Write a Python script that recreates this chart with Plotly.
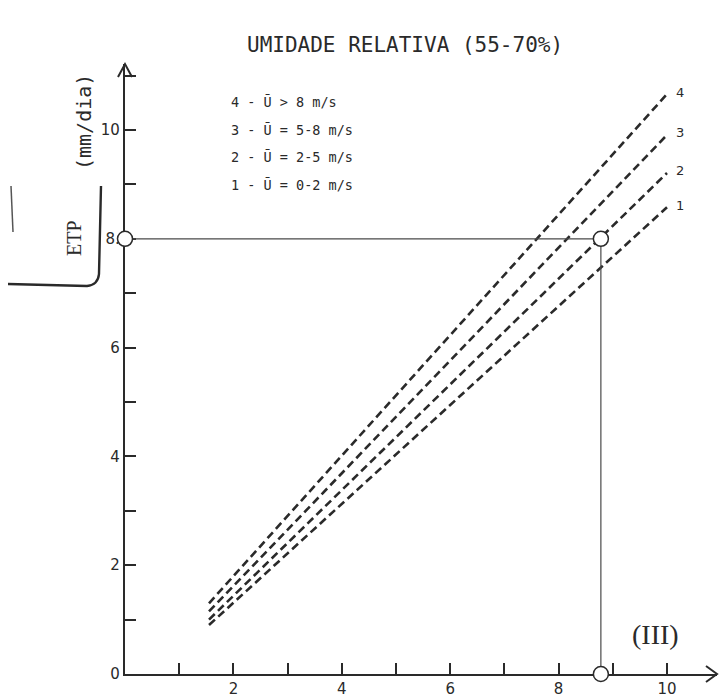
import plotly.graph_objects as go

# ---------------- data ----------------
curve_ids = ['1', '2', '3', '4']
x_ends = [1.55, 10.0]                 # x at both ends of each line
etp_curve1 = [0.90, 8.58]             # 1 - U = 0-2 m/s
etp_curve2 = [1.00, 9.21]             # 2 - U = 2-5 m/s
etp_curve3 = [1.15, 9.91]             # 3 - U = 5-8 m/s
etp_curve4 = [1.30, 10.66]            # 4 - U > 8 m/s
legend_lines = ['4 - Ū > 8 m/s', '3 - Ū = 5-8 m/s', '2 - Ū = 2-5 m/s', '1 - Ū = 0-2 m/s']
x_tickvals = [1, 2, 3, 4, 5, 6, 7, 8, 9, 10]
x_ticktext = ['', '2', '', '4', '', '6', '', '8', '', '10']
y_tickvals = [0, 1, 2, 3, 4, 5, 6, 7, 8, 9, 10, 11]
y_ticktext = ['0', '', '2', '', '4', '', '6', '', '8.', '', '10', '']
read_x = 8.78                          # example reading
read_etp = 8.0

# ---------------- geometry / style ----------------
W, H = 723, 698
INK = '#2a2a2a'
X0PX, XENDPX, XUNIT = 125, 717, 54.2
Y0PX, YTOPPX, YUNIT = 674, 64, 54.4
x_max = (XENDPX - X0PX) / XUNIT
y_max = (Y0PX - YTOPPX) / YUNIT


def px(x):
    return x / W


def py(y):
    return 1 - y / H


curves = [etp_curve1, etp_curve2, etp_curve3, etp_curve4]

fig = go.Figure()
for cid, ys in zip(curve_ids, curves):
    fig.add_trace(go.Scatter(
        x=x_ends, y=ys, mode='lines', name=cid, showlegend=False,
        line=dict(color=INK, width=2.6, dash='8px,4.5px'), hoverinfo='skip'))

# reading guide lines
fig.add_trace(go.Scatter(
    x=[0, read_x, read_x], y=[read_etp, read_etp, 0], mode='lines',
    line=dict(color='#4a4a4a', width=1.2), showlegend=False, hoverinfo='skip',
    cliponaxis=False))
fig.add_trace(go.Scatter(
    x=[0, read_x, read_x], y=[read_etp, read_etp, 0], mode='markers',
    marker=dict(symbol='circle', size=15, color='white',
                line=dict(color=INK, width=1.5)),
    showlegend=False, hoverinfo='skip', cliponaxis=False))

axis_common = dict(
    showline=True, linecolor=INK, linewidth=2.4, showgrid=False, zeroline=False,
    ticks='inside', ticklen=11, tickwidth=1.6, tickcolor=INK,
    tickfont=dict(family='DejaVu Sans', size=15, color=INK), layer='below traces',
    fixedrange=True)

fig.update_layout(
    width=W, height=H, margin=dict(l=0, r=0, t=0, b=0, autoexpand=False),
    paper_bgcolor='white', plot_bgcolor='white', showlegend=False,
    xaxis=dict(domain=[px(X0PX), px(XENDPX)], range=[0, x_max], anchor='y',
               tickmode='array', tickvals=x_tickvals, ticktext=x_ticktext,
               **axis_common),
    yaxis=dict(domain=[py(Y0PX), py(YTOPPX)], range=[0, y_max], anchor='x',
               tickmode='array', tickvals=y_tickvals, ticktext=y_ticktext,
               **axis_common),
)

# open arrowheads at axis ends (paper-anchored so they are not clipped)
fig.add_shape(type='path', xref='paper', yref='paper', xsizemode='pixel', ysizemode='pixel',
              xanchor=px(XENDPX), yanchor=py(Y0PX), path='M -11 8 L 0 0 L -11 -8',
              line=dict(color=INK, width=2))
fig.add_shape(type='path', xref='paper', yref='paper', xsizemode='pixel', ysizemode='pixel',
              xanchor=px(X0PX), yanchor=py(YTOPPX), path='M -7 -13 L 0 0 L 7 -13',
              line=dict(color=INK, width=2))

# curve labels at line ends
for cid, ys in zip(curve_ids, curves):
    fig.add_annotation(x=x_ends[-1], y=ys[-1], text=cid, showarrow=False,
                       xshift=13, yshift=2, xanchor='center', yanchor='middle',
                       font=dict(family='DejaVu Sans', size=13, color=INK))


def label(x, y, text, font, angle=0, xanchor='center'):
    fig.add_annotation(x=px(x), y=py(y), xref='paper', yref='paper', text=text,
                       showarrow=False, xanchor=xanchor, yanchor='middle',
                       textangle=angle, font=font)


# title
label(405, 45, 'UMIDADE RELATIVA (55-70%)',
      dict(family='DejaVu Sans Mono', size=21, color=INK))

# legend text
for i, t in enumerate(legend_lines):
    label(229, [102, 130, 157, 185][i], t,
          dict(family='DejaVu Sans Mono', size=13.5, color=INK), xanchor='left')

# panel number
label(655, 634, '(III)', dict(family='Liberation Serif', size=28, color=INK))

# y-axis title parts
label(84, 122, '(mm/dia)', dict(family='DejaVu Sans Mono', size=20, color=INK), angle=-90)
label(74, 238, 'ETP', dict(family='Liberation Serif', size=20, color=INK), angle=-90)

# scan artefacts (edge of a pasted label)
fig.add_shape(type='path', xref='paper', yref='paper', xsizemode='pixel', ysizemode='pixel',
              xanchor=0, yanchor=1, path='M 101 -186 L 99 -274 Q 98 -285 87 -286 L 8 -284',
              line=dict(color=INK, width=2.4))
fig.add_shape(type='path', xref='paper', yref='paper', xsizemode='pixel', ysizemode='pixel',
              xanchor=0, yanchor=1, path='M 11 -186 L 13 -232',
              line=dict(color='#555555', width=1.5))

fig.write_html('out.html', post_script="document.body.style.margin='0';",
               config={'displayModeBar': False})
